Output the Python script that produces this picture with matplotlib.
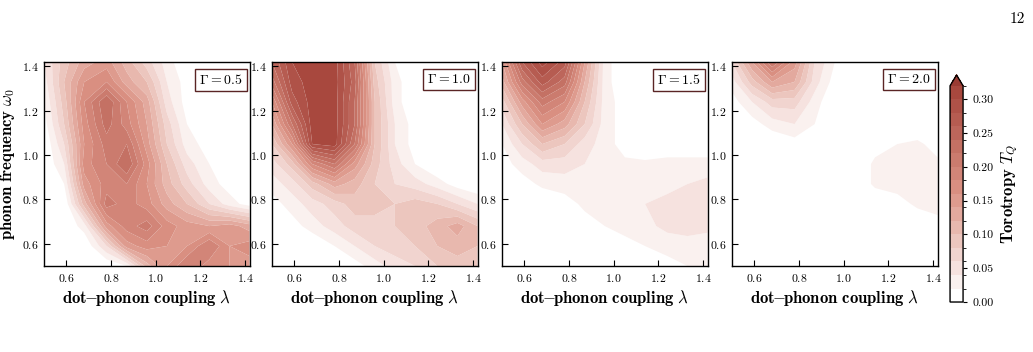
import numpy as np
import matplotlib
matplotlib.use("Agg")
import matplotlib.pyplot as plt
from matplotlib.colors import LinearSegmentedColormap, ListedColormap, BoundaryNorm

plt.rcParams['font.family'] = 'serif'
plt.rcParams['font.serif'] = ['cmr10']
plt.rcParams['mathtext.fontset'] = 'cm'
plt.rcParams['axes.formatter.use_mathtext'] = True

############################################################
# grid: dot-phonon coupling lambda (columns), phonon frequency omega_0 (rows, bottom -> top)
lam = [0.50, 0.59, 0.68, 0.78, 0.87, 0.96, 1.05, 1.14, 1.24, 1.33, 1.42]
om = [0.50, 0.59, 0.68, 0.78, 0.87, 0.96, 1.05, 1.14, 1.24, 1.33, 1.42]

gammas = ['0.5', '1.0', '1.5', '2.0']

# torotropy T_Q, Gamma = 0.5
tq_05 = [
    [0.00, 0.00, 0.00, 0.00, 0.02, 0.11, 0.16, 0.20, 0.17, 0.16, 0.15],
    [0.00, 0.00, 0.00, 0.06, 0.15, 0.17, 0.16, 0.16, 0.20, 0.16, 0.17],
    [0.00, 0.00, 0.03, 0.15, 0.19, 0.21, 0.17, 0.15, 0.14, 0.15, 0.13],
    [0.00, 0.00, 0.11, 0.21, 0.19, 0.17, 0.13, 0.10, 0.06, 0.03, 0.01],
    [0.00, 0.02, 0.15, 0.19, 0.20, 0.16, 0.11, 0.07, 0.03, 0.01, 0.00],
    [0.00, 0.04, 0.17, 0.20, 0.24, 0.17, 0.10, 0.05, 0.02, 0.00, 0.00],
    [0.00, 0.06, 0.16, 0.21, 0.22, 0.15, 0.08, 0.03, 0.01, 0.00, 0.00],
    [0.01, 0.08, 0.17, 0.23, 0.19, 0.14, 0.07, 0.02, 0.00, 0.00, 0.00],
    [0.02, 0.09, 0.18, 0.24, 0.18, 0.13, 0.05, 0.01, 0.00, 0.00, 0.00],
    [0.03, 0.10, 0.16, 0.18, 0.13, 0.10, 0.04, 0.01, 0.00, 0.00, 0.00],
    [0.04, 0.09, 0.13, 0.15, 0.11, 0.07, 0.03, 0.00, 0.00, 0.00, 0.00],
]

# Gamma = 1.0
tq_10 = [
    [0.00, 0.00, 0.00, 0.00, 0.01, 0.03, 0.05, 0.06, 0.08, 0.09, 0.09],
    [0.00, 0.00, 0.00, 0.02, 0.04, 0.06, 0.07, 0.08, 0.10, 0.11, 0.10],
    [0.00, 0.01, 0.03, 0.05, 0.07, 0.07, 0.08, 0.09, 0.11, 0.13, 0.10],
    [0.01, 0.03, 0.05, 0.07, 0.09, 0.09, 0.08, 0.09, 0.08, 0.06, 0.04],
    [0.03, 0.05, 0.09, 0.13, 0.11, 0.08, 0.06, 0.05, 0.03, 0.01, 0.00],
    [0.05, 0.09, 0.18, 0.22, 0.15, 0.09, 0.05, 0.02, 0.00, 0.00, 0.00],
    [0.08, 0.16, 0.30, 0.31, 0.22, 0.10, 0.04, 0.01, 0.00, 0.00, 0.00],
    [0.12, 0.22, 0.31, 0.31, 0.24, 0.10, 0.04, 0.01, 0.00, 0.00, 0.00],
    [0.16, 0.27, 0.31, 0.31, 0.24, 0.10, 0.03, 0.00, 0.00, 0.00, 0.00],
    [0.21, 0.29, 0.31, 0.31, 0.25, 0.09, 0.03, 0.00, 0.00, 0.00, 0.00],
    [0.24, 0.30, 0.31, 0.31, 0.24, 0.08, 0.02, 0.00, 0.00, 0.00, 0.00],
]

# Gamma = 1.5
tq_15 = [
    [0.00, 0.00, 0.00, 0.00, 0.00, 0.00, 0.00, 0.00, 0.01, 0.02, 0.03],
    [0.00, 0.00, 0.00, 0.00, 0.00, 0.00, 0.01, 0.02, 0.03, 0.035, 0.03],
    [0.00, 0.00, 0.00, 0.00, 0.01, 0.02, 0.03, 0.035, 0.045, 0.045, 0.045],
    [0.00, 0.00, 0.00, 0.01, 0.025, 0.03, 0.03, 0.04, 0.045, 0.045, 0.045],
    [0.00, 0.01, 0.025, 0.03, 0.03, 0.03, 0.03, 0.03, 0.035, 0.04, 0.045],
    [0.01, 0.03, 0.05, 0.05, 0.04, 0.03, 0.025, 0.025, 0.03, 0.03, 0.03],
    [0.02, 0.06, 0.10, 0.08, 0.05, 0.03, 0.01, 0.00, 0.00, 0.00, 0.00],
    [0.04, 0.10, 0.16, 0.13, 0.08, 0.03, 0.01, 0.00, 0.00, 0.00, 0.00],
    [0.07, 0.15, 0.21, 0.18, 0.10, 0.03, 0.01, 0.00, 0.00, 0.00, 0.00],
    [0.11, 0.21, 0.27, 0.23, 0.12, 0.03, 0.00, 0.00, 0.00, 0.00, 0.00],
    [0.14, 0.26, 0.31, 0.27, 0.14, 0.03, 0.00, 0.00, 0.00, 0.00, 0.00],
]

# Gamma = 2.0
tq_20 = [
    [0.00, 0.00, 0.00, 0.00, 0.00, 0.00, 0.00, 0.00, 0.00, 0.00, 0.00],
    [0.00, 0.00, 0.00, 0.00, 0.00, 0.00, 0.00, 0.00, 0.00, 0.00, 0.00],
    [0.00, 0.00, 0.00, 0.00, 0.00, 0.00, 0.00, 0.00, 0.00, 0.00, 0.01],
    [0.00, 0.00, 0.00, 0.00, 0.00, 0.00, 0.00, 0.00, 0.01, 0.025, 0.03],
    [0.00, 0.00, 0.00, 0.00, 0.00, 0.00, 0.00, 0.025, 0.03, 0.03, 0.03],
    [0.00, 0.00, 0.00, 0.00, 0.00, 0.00, 0.00, 0.025, 0.03, 0.03, 0.025],
    [0.00, 0.00, 0.00, 0.01, 0.00, 0.00, 0.00, 0.01, 0.02, 0.025, 0.01],
    [0.00, 0.01, 0.03, 0.04, 0.02, 0.00, 0.00, 0.00, 0.00, 0.00, 0.00],
    [0.01, 0.04, 0.07, 0.07, 0.03, 0.00, 0.00, 0.00, 0.00, 0.00, 0.00],
    [0.03, 0.09, 0.14, 0.12, 0.05, 0.01, 0.00, 0.00, 0.00, 0.00, 0.00],
    [0.06, 0.14, 0.22, 0.15, 0.06, 0.02, 0.00, 0.00, 0.00, 0.00, 0.00],
]

panels = [tq_05, tq_10, tq_15, tq_20]

cb_ticks = [0.00, 0.05, 0.10, 0.15, 0.20, 0.25, 0.30]

############################################################
# colormap: white -> brick red, one flat colour per band (lowest band white)
levels = np.linspace(0.0, 0.32, 17)
nband = len(levels) - 1
base = LinearSegmentedColormap.from_list('torotropy', ['#ffffff', '#dc9486', '#a8483e'])
cmap = ListedColormap([base(k / (nband - 1)) for k in range(nband)])
cmap.set_over('#9a3b33')
norm = BoundaryNorm(levels, nband, extend='neither')

fig = plt.figure(figsize=(10.33, 3.52), dpi=100)

xlab = r'$\mathbf{dot}\!\!-\!\!\mathbf{phonon\ coupling}\ \lambda$'
ylab = r'$\mathbf{phonon\ frequency}\ \omega_0$'

lefts = [0.0426, 0.2633, 0.486, 0.7086]
for i, (left, Z) in enumerate(zip(lefts, panels)):
    ax = fig.add_axes([left, 0.2443, 0.199, 0.5795])
    cs = ax.contourf(lam, om, np.array(Z), levels=levels, cmap=cmap, norm=norm,
                     extend='max', antialiased=True)
    ax.set_xlim(0.5, 1.42)
    ax.set_ylim(0.5, 1.42)
    ax.set_xticks([0.6, 0.8, 1.0, 1.2, 1.4])
    ax.set_yticks([0.6, 0.8, 1.0, 1.2, 1.4])
    ax.tick_params(direction='in', length=4, width=0.8, labelsize=8.5, pad=4)
    ax.set_xlabel(xlab, fontsize=12, labelpad=3)
    if i == 0:
        ax.set_ylabel(ylab, fontsize=12, labelpad=3)
    ax.text(0.965, 0.945, r'$\Gamma = ' + gammas[i] + '$', transform=ax.transAxes,
            ha='right', va='top', fontsize=10,
            bbox=dict(boxstyle='square,pad=0.3', facecolor='white', edgecolor='#5a2424', lw=1.0))
    for s in ax.spines.values():
        s.set_linewidth(1.0)

cax = fig.add_axes([0.9197, 0.142, 0.0126, 0.645])
cb = fig.colorbar(cs, cax=cax, ticks=cb_ticks, extendfrac=0.05)
cb.ax.set_yticklabels(['%.2f' % t for t in cb_ticks])
cb.ax.tick_params(labelsize=8.5, length=3, width=0.8)
cb.set_label(r'$\mathbf{Torotropy}\ T_Q$', fontsize=12, labelpad=4)
cb.outline.set_linewidth(1.0)

fig.text(0.992, 0.965, '12', ha='right', va='top', fontsize=11)

fig.savefig('out.png', dpi=100)
